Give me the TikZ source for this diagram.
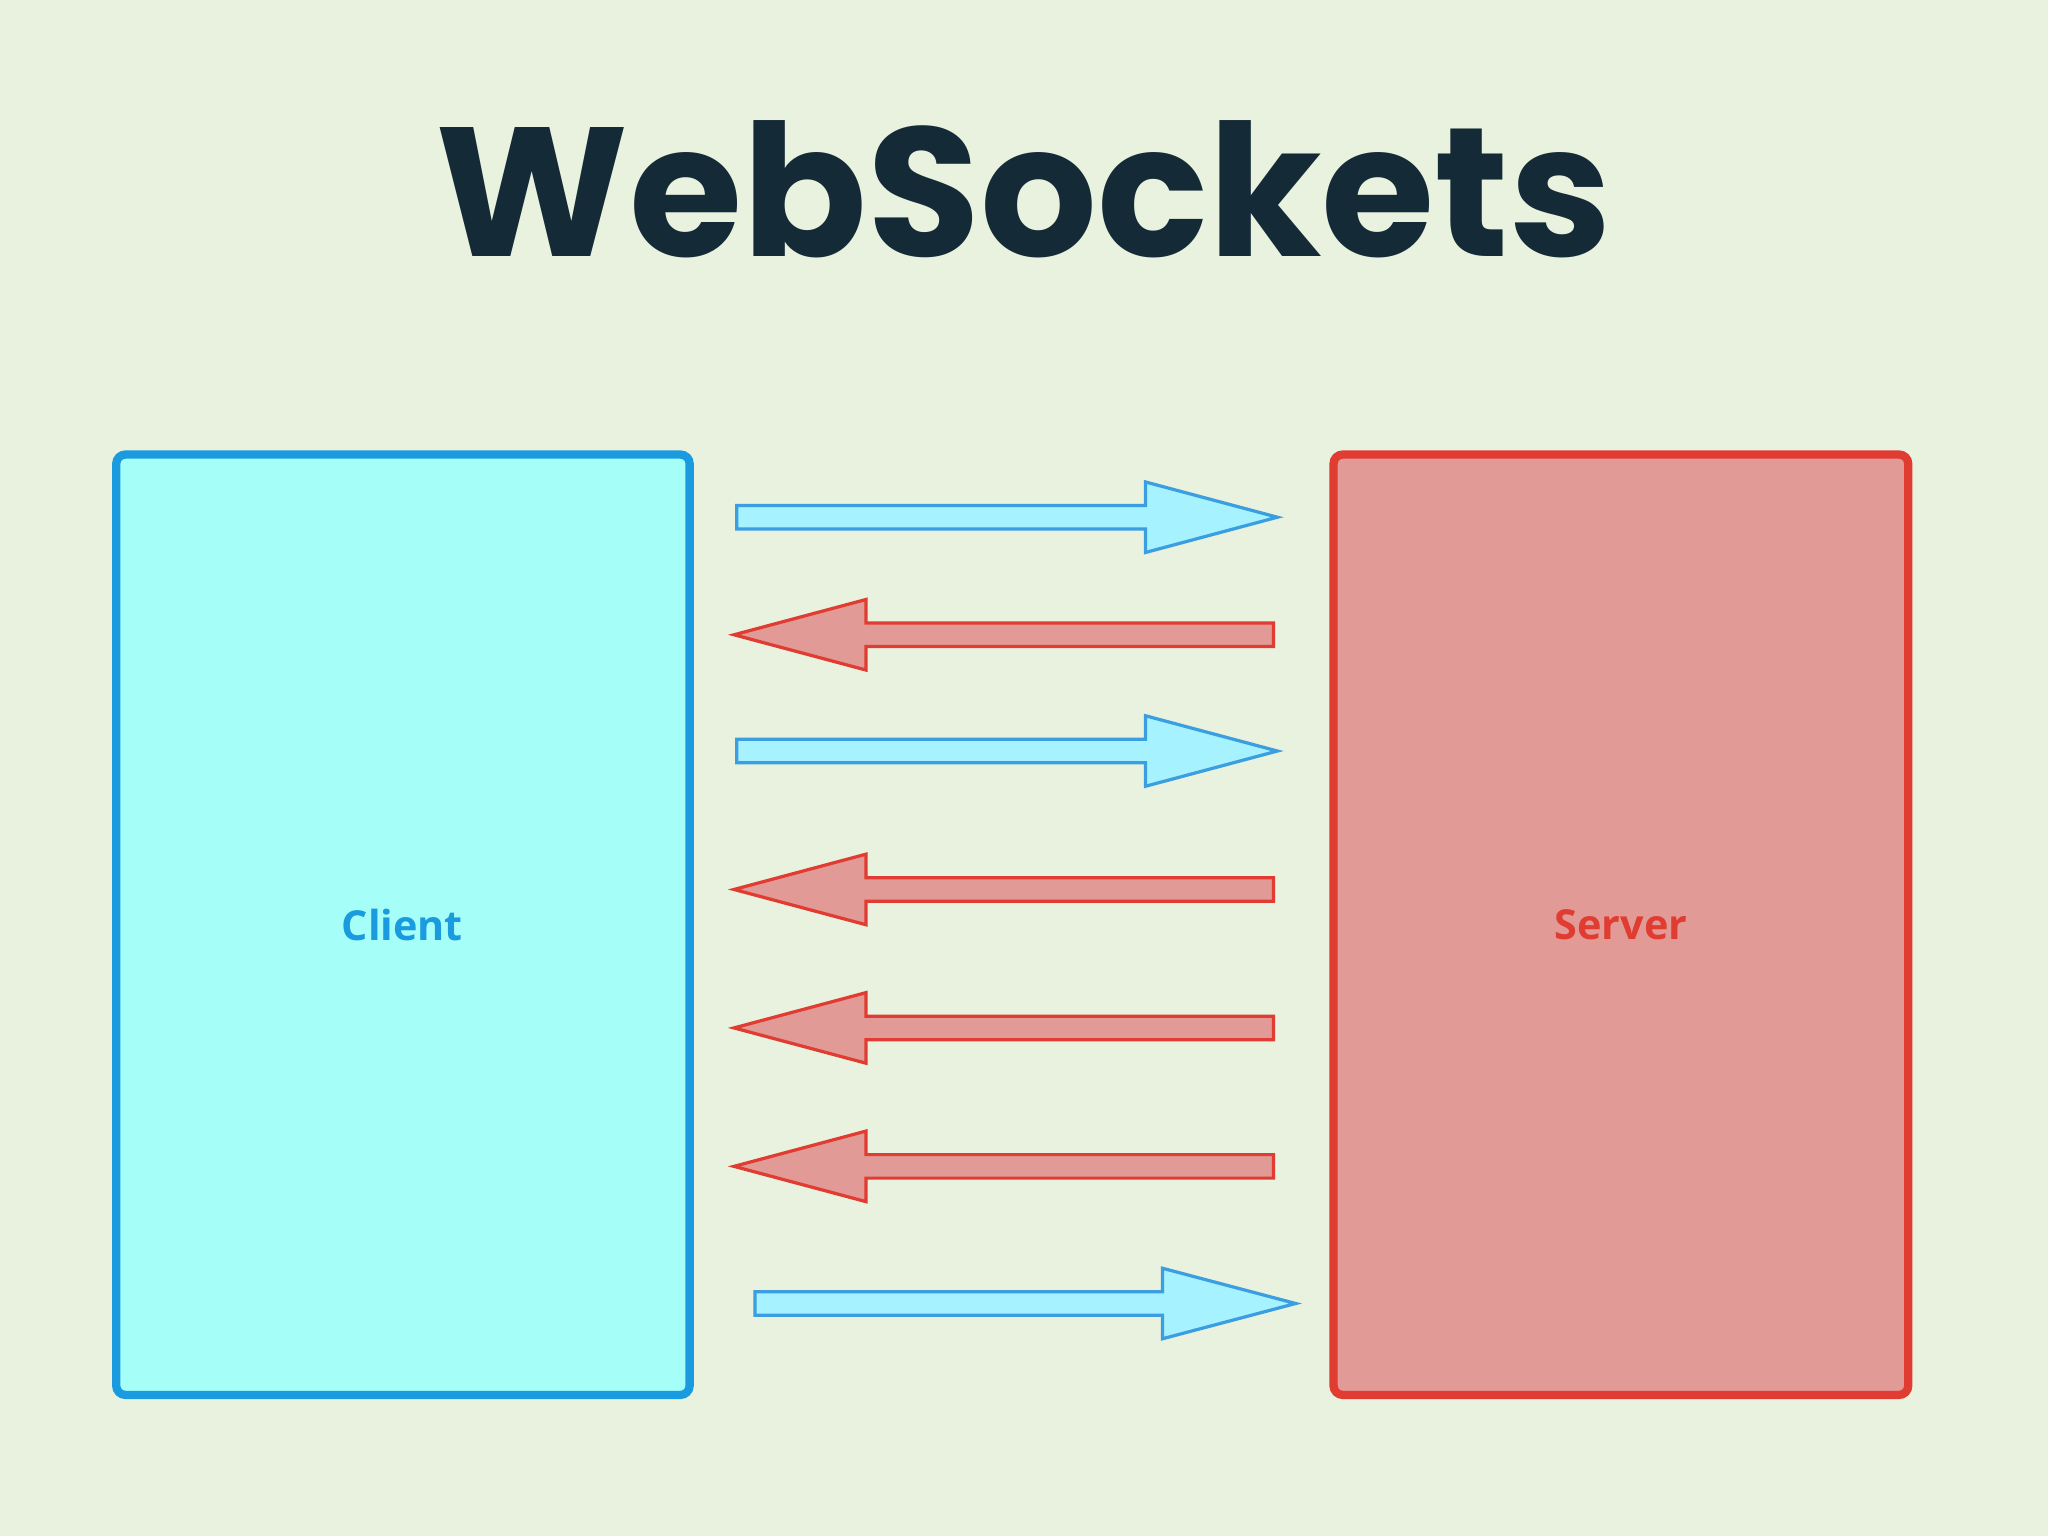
\documentclass[tikz,border=0pt]{standalone}
\usepackage{fontspec}
\setmainfont{Poppins}
\newfontfamily\lbl{Open Sans}
\definecolor{bg}{HTML}{E8F2DF}
\definecolor{cfill}{HTML}{A5FFF8}
\definecolor{cdraw}{HTML}{1A9BE0}
\definecolor{sfill}{HTML}{E29A96}
\definecolor{sdraw}{HTML}{E03C31}
\definecolor{afill}{HTML}{A6F2FF}
\definecolor{adraw}{HTML}{3A9EE0}
\definecolor{title}{HTML}{142A36}
\begin{document}
\begin{tikzpicture}[x=0.01cm,y=-0.01cm,
  box/.style={line width=1.8pt,rounded corners=2pt},
  rarrow/.style={fill=afill,draw=adraw,line width=0.7pt},
  larrow/.style={fill=sfill,draw=sdraw,line width=0.7pt}]
\fill[bg] (0,0) rectangle (1568,1176);
\useasboundingbox (0,0) rectangle (1568,1176);
\node[font=\fontsize{40}{46}\selectfont\bfseries,text=title] (t) at (784,145) {WebSockets};
\draw[box,fill=cfill,draw=cdraw] (89,348) rectangle (528,1068);
\draw[box,fill=sfill,draw=sdraw] (1021,348) rectangle (1461,1068);
\node[font=\lbl\fontsize{9}{11}\selectfont\bfseries,text=cdraw] (c) at (308,708) {Client};
\node[font=\lbl\fontsize{9}{11}\selectfont\bfseries,text=sdraw] (s) at (1241,708) {Server};
\foreach \y/\a/\b/\c in {396/564/877/978, 575/564/877/978, 998/578/890/992}
  \draw[rarrow] (\a,\y-9) -- (\b,\y-9) -- (\b,\y-27) -- (\c,\y) -- (\b,\y+27) -- (\b,\y+9) -- (\a,\y+9) -- cycle;
\foreach \y in {486,681,787,893}
  \draw[larrow] (975,\y-9) -- (663,\y-9) -- (663,\y-27) -- (562,\y) -- (663,\y+27) -- (663,\y+9) -- (975,\y+9) -- cycle;
\end{tikzpicture}
\end{document}
